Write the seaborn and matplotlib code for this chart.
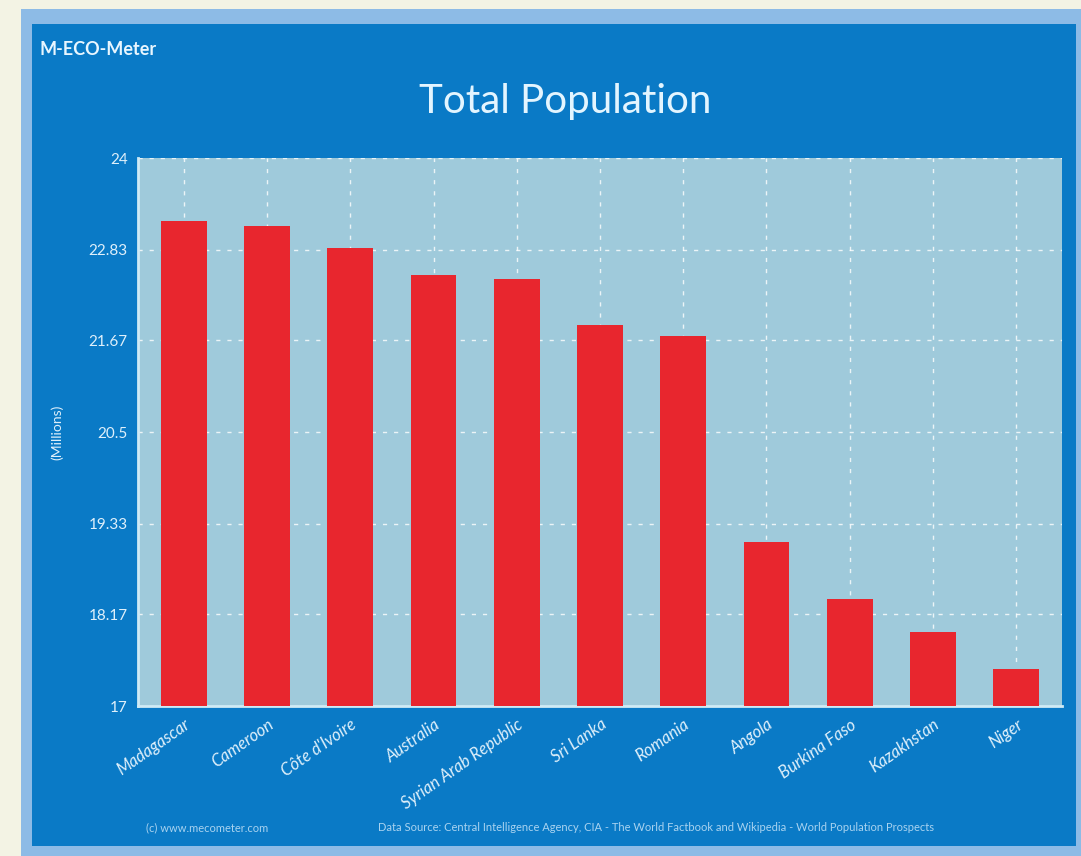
import numpy as np
import pandas as pd
import matplotlib.pyplot as plt
import seaborn as sns
from matplotlib.patches import Rectangle

countries = ['Madagascar', 'Cameroon', "Côte d'Ivoire", 'Australia', 'Syrian Arab Republic',
             'Sri Lanka', 'Romania', 'Angola', 'Burkina Faso', 'Kazakhstan', 'Niger']
population = [23.20, 23.13, 22.85, 22.51, 22.46, 21.87, 21.73, 19.09, 18.37, 17.95, 17.47]
yticks = [17, 18.17, 19.33, 20.5, 21.67, 22.83, 24]
ytick_labels = ['17', '18.17', '19.33', '20.5', '21.67', '22.83', '24']

df = pd.DataFrame({'country': countries, 'population': population})

sns.set_style('white')
plt.rcParams['font.family'] = ['Lato', 'DejaVu Sans']

fig = plt.figure(figsize=(10.81, 8.56), dpi=100, facecolor='#f3f3e4')
# rahmen + blaues panel (hinter der achse)
fig.patches.append(Rectangle((0.019, 0.0), 0.981, 0.99, transform=fig.transFigure,
                             facecolor='#8dbbe6', edgecolor='none', zorder=-10))
fig.patches.append(Rectangle((0.030, 0.012), 0.965, 0.96, transform=fig.transFigure,
                             facecolor='#0a7ac6', edgecolor='none', zorder=-9))

ax = fig.add_axes([0.1277, 0.1752, 0.8547, 0.6402])
ax.set_facecolor('#9fcadb')

sns.barplot(data=df, x='country', y='population', color='#e8262e', width=0.55,
            saturation=1, linewidth=0, edgecolor='none', ax=ax, zorder=3)

# gitter nach barplot, sonst schaltet seaborn das x-gitter ab
ax.grid(True, axis='both', color='white', linestyle=(0, (3, 5)), linewidth=1, alpha=0.8)
ax.set_axisbelow(True)

ax.set_ylim(17, 24)
ax.set_xlim(-0.55, 10.55)
ax.set_yticks(yticks)
ax.set_yticklabels(ytick_labels)
ax.set_xlabel('')
ax.set_ylabel('(Millions)', color='#dff0fb', fontsize=10, labelpad=18)
ax.tick_params(axis='y', colors='#dff0fb', labelsize=11, length=4, width=1)
ax.tick_params(axis='x', colors='#dff0fb', labelsize=12, length=4, width=1)
plt.setp(ax.get_xticklabels(), rotation=35, ha='right', rotation_mode='anchor', style='italic')

for side in ['top', 'right']:
    ax.spines[side].set_visible(False)
ax.spines['left'].set_color('#cfeaf5')
ax.spines['bottom'].set_color('#cfeaf5')
ax.spines['left'].set_linewidth(2)
ax.spines['bottom'].set_linewidth(2)

fig.text(0.523, 0.882, 'Total Population', color='#e3f5ff', fontsize=29,
         ha='center', va='center')
fig.text(0.037, 0.942, 'M-ECO-Meter', color='#e8f6ff', fontsize=13,
         ha='left', va='center', fontweight='bold')
fig.text(0.135, 0.033, '(c) www.mecometer.com', color='#a9d3f0', fontsize=8, ha='left', va='center')
fig.text(0.35, 0.033, 'Data Source: Central Intelligence Agency, CIA - The World Factbook and Wikipedia - World Population Prospects',
         color='#a9d3f0', fontsize=8, ha='left', va='center')

plt.savefig('out.png', dpi=100, facecolor=fig.get_facecolor())
